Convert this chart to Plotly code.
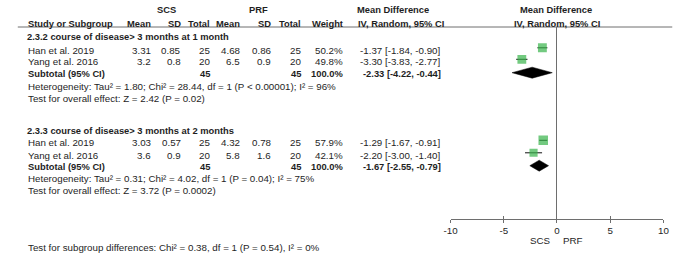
import plotly.graph_objects as go

W, H = 692, 256
FONT = "Liberation Sans, Arial, sans-serif"
TXT = "#1e1e1e"
GRID = "#6e6e6e"
GREEN = "#38b44a"

# ---------------- data ----------------
group_titles = ["2.3.2 course of disease> 3 months at 1 month",
                "2.3.3 course of disease> 3 months at 2 months"]
studies_g1 = ["Han et al. 2019", "Yang et al. 2016"]
scs_mean_g1 = [3.31, 3.2]
scs_sd_g1 = [0.85, 0.8]
scs_n_g1 = [25, 20]
prf_mean_g1 = [4.68, 6.5]
prf_sd_g1 = [0.86, 0.9]
prf_n_g1 = [25, 20]
weight_g1 = [50.2, 49.8]
md_g1 = [-1.37, -3.30]
lo_g1 = [-1.84, -3.83]
hi_g1 = [-0.90, -2.77]
sub_g1 = [-2.33, -4.22, -0.44]
het_g1 = "Heterogeneity: Tau² = 1.80; Chi² = 28.44, df = 1 (P < 0.00001); I² = 96%"
eff_g1 = "Test for overall effect: Z = 2.42 (P = 0.02)"

studies_g2 = ["Han et al. 2019", "Yang et al. 2016"]
scs_mean_g2 = [3.03, 3.6]
scs_sd_g2 = [0.57, 0.9]
scs_n_g2 = [25, 20]
prf_mean_g2 = [4.32, 5.8]
prf_sd_g2 = [0.78, 1.6]
prf_n_g2 = [25, 20]
weight_g2 = [57.9, 42.1]
md_g2 = [-1.29, -2.20]
lo_g2 = [-1.67, -3.00]
hi_g2 = [-0.91, -1.40]
sub_g2 = [-1.67, -2.55, -0.79]
het_g2 = "Heterogeneity: Tau² = 0.31; Chi² = 4.02, df = 1 (P = 0.04); I² = 75%"
eff_g2 = "Test for overall effect: Z = 3.72 (P = 0.0002)"

subgroup_test = "Test for subgroup differences: Chi² = 0.38, df = 1 (P = 0.54), I² = 0%"
x_ticks = [-10, -5, 0, 5, 10]
x_ticktext = ["-10", "-5", "0", "5", "10"]
favours = ["SCS", "PRF"]

# ---------------- layout constants (pixels) ----------------
ROWS = {
    "g1": dict(title=36.5, studies=[50, 61.5], sub=73.5, het=86, eff=98),
    "g2": dict(title=130.5, studies=[142.5, 155], sub=166.5, het=178.5, eff=190.5),
}
MARK_DY = -2.2      # marker offset from text centre
DIA_DY = -0.8
AX_TOP, AX_BOT = 27, 219
XL, XR = 452, 669
COL = dict(name=20, scs_m=148, scs_sd=178, scs_n=208, prf_m=238, prf_sd=270,
           prf_n=301, w=343, md=443, mdh=356)
SIZE_REG, SIZE_BOLD = 9.75, 9.35

annotations = []


def txt(s, x, y, anchor="left", bold=False):
    size = SIZE_BOLD if bold else SIZE_REG
    if bold:
        s = "<b>" + s + "</b>"
    annotations.append(dict(text=s, x=x / W, y=1 - y / H, xref="paper", yref="paper",
                            xanchor=anchor, yanchor="middle", showarrow=False,
                            font=dict(family=FONT, size=size, color=TXT), borderpad=0))


def g(v):
    return f"{v:g}"


# header
txt("SCS", 163, 10, "center", True)
txt("PRF", 256, 10, "center", True)
txt("Mean Difference", COL["mdh"], 10, "left", True)
txt("Mean Difference", 560, 10, "center", True)
hy = 23.5
txt("Study or Subgroup", COL["name"], hy, "left", True)
for k, lab in [("scs_m", "Mean"), ("scs_sd", "SD"), ("scs_n", "Total"),
               ("prf_m", "Mean"), ("prf_sd", "SD"), ("prf_n", "Total"), ("w", "Weight")]:
    txt(lab, COL[k], hy, "right", True)
txt("IV, Random, 95% CI", COL["mdh"] + 1, hy, "left", True)
txt("IV, Random, 95% CI", 561, hy, "center", True)

groups = [
    ("g1", group_titles[0], studies_g1, scs_mean_g1, scs_sd_g1, scs_n_g1, prf_mean_g1, prf_sd_g1,
     prf_n_g1, weight_g1, md_g1, lo_g1, hi_g1, sub_g1, het_g1, eff_g1),
    ("g2", group_titles[1], studies_g2, scs_mean_g2, scs_sd_g2, scs_n_g2, prf_mean_g2, prf_sd_g2,
     prf_n_g2, weight_g2, md_g2, lo_g2, hi_g2, sub_g2, het_g2, eff_g2),
]

fig = go.Figure()
for (key, title, names, sm, ssd, sn, pm, psd, pn, w, md, lo, hi, sub, het, eff) in groups:
    r = ROWS[key]
    txt(title, COL["name"] - 1, r["title"], "left", True)
    for i, nm in enumerate(names):
        y = r["studies"][i]
        txt(nm, COL["name"], y)
        txt(g(sm[i]), COL["scs_m"], y, "right")
        txt(g(ssd[i]), COL["scs_sd"], y, "right")
        txt(str(sn[i]), COL["scs_n"], y, "right")
        txt(g(pm[i]), COL["prf_m"], y, "right")
        txt(g(psd[i]), COL["prf_sd"], y, "right")
        txt(str(pn[i]), COL["prf_n"], y, "right")
        txt(f"{w[i]:.1f}%", COL["w"], y, "right")
        txt(f"{md[i]:.2f} [{lo[i]:.2f}, {hi[i]:.2f}]", COL["md"], y, "right")
    y = r["sub"]
    txt("Subtotal (95% CI)", COL["name"], y, "left", True)
    txt(str(sum(sn)), COL["scs_n"], y, "right", True)
    txt(str(sum(pn)), COL["prf_n"], y, "right", True)
    txt(f"{sum(w):.1f}%", COL["w"], y, "right", True)
    txt(f"{sub[0]:.2f} [{sub[1]:.2f}, {sub[2]:.2f}]", COL["md"], y, "right", True)
    txt(het, COL["name"], r["het"])
    txt(eff, COL["name"], r["eff"])

    # CI lines (drawn first, underneath the squares)
    ys = [v + MARK_DY for v in r["studies"]]
    lx, ly = [], []
    for i in range(len(md)):
        lx += [lo[i], hi[i], None]
        ly += [ys[i], ys[i], None]
    fig.add_trace(go.Scatter(x=lx, y=ly, mode="lines", line=dict(color="#111", width=1),
                             xaxis="x", yaxis="y", hoverinfo="skip", showlegend=False))
    # squares (same subplot, later trace -> on top)
    fig.add_trace(go.Scatter(x=md, y=ys, mode="markers", xaxis="x", yaxis="y",
                             marker=dict(symbol="square", color=GREEN,
                                         size=[12.5 * (wi / 100) ** 0.5 for wi in w],
                                         line=dict(width=0)),
                             hoverinfo="skip", showlegend=False))
    # diamond (on overlay axis that carries the outward tick marks)
    dy = r["sub"] + DIA_DY
    hh = 5.5
    fig.add_trace(go.Scatter(x=[sub[1], sub[0], sub[2], sub[0], sub[1]],
                             y=[dy, dy - hh, dy, dy + hh, dy], xaxis="x2", yaxis="y",
                             mode="lines", fill="toself", fillcolor="#000",
                             line=dict(color="#000", width=0.5),
                             hoverinfo="skip", showlegend=False))

txt(subgroup_test, COL["name"], 247.5)
txt(favours[0], 555, 240.5, "right")
txt(favours[1], 566, 240.5, "left")

fig.update_layout(
    width=W, height=H, autosize=False,
    margin=dict(l=0, r=0, t=0, b=0),
    paper_bgcolor="white", plot_bgcolor="white",
    showlegend=False,
    annotations=annotations,
    shapes=[dict(type="line", xref="paper", yref="paper", x0=11 / W, x1=678 / W,
                 y0=1 - AX_TOP / H, y1=1 - AX_TOP / H, line=dict(color=GRID, width=1))],
    xaxis=dict(domain=[XL / W, XR / W], range=[-10, 10], anchor="y",
               tickvals=x_ticks, ticktext=x_ticktext, ticks="inside", ticklen=3,
               tickcolor=GRID, tickwidth=1, showline=True, linecolor=GRID, linewidth=1,
               zeroline=True, zerolinecolor=GRID, zerolinewidth=1, showgrid=False,
               tickfont=dict(family=FONT, size=SIZE_REG, color=TXT), ticklabelstandoff=2,
               fixedrange=True),
    xaxis2=dict(domain=[XL / W, XR / W], range=[-10, 10], anchor="y", overlaying="x",
                side="bottom", tickvals=x_ticks, ticks="outside", ticklen=3, tickcolor=GRID,
                tickwidth=1, showticklabels=False, showline=False, zeroline=False,
                showgrid=False, fixedrange=True),
    yaxis=dict(domain=[1 - AX_BOT / H, 1 - AX_TOP / H], range=[AX_BOT, AX_TOP],
               visible=False, showgrid=False, zeroline=False, fixedrange=True),
)

fig.write_html("out.html", config={"displayModeBar": False},
               post_script="document.body.style.margin='0';document.body.style.overflow='hidden';")
